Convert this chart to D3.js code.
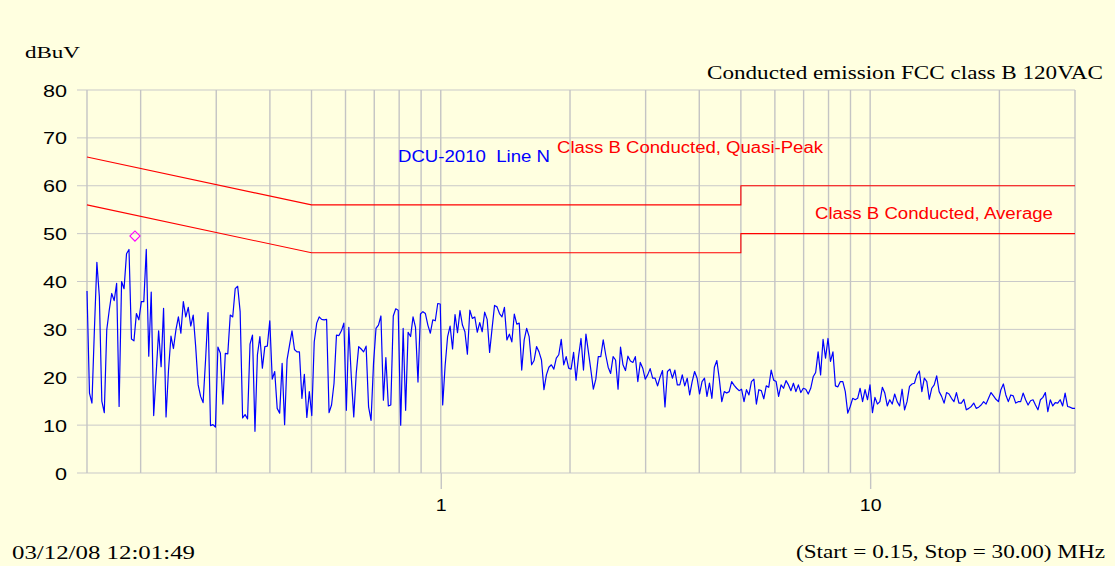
<!DOCTYPE html>
<html>
<head>
<meta charset="utf-8">
<script src="https://cdn.jsdelivr.net/npm/d3@7"></script>
<style>
  html, body { margin: 0; padding: 0; background: #ffffe0; }
  svg { display: block; }
  svg text { white-space: pre; }
</style>
</head>
<body>
<svg id="chart" width="1115" height="566"></svg>
<script>
// sweep definition (MHz)
const sweepStart = 0.15;
const sweepStop = 30;

const levels = [
  38, 16.7, 14.6, 30, 44, 36.8, 15, 12.6, 29.9, 34, 37.5, 36, 39.6, 13.9, 40, 38.5,
  45.8, 46.7, 28, 27.6, 33.3, 32, 35.8, 35.8, 46.7, 24.4, 37.8, 12, 20.8, 29.7, 22.2,
  34.4, 11.7, 21.5, 28.6, 26, 29.9, 32.6, 29.2, 35.8, 32.6, 34.6, 30.7, 33, 26.4, 18.4,
  16, 14.7, 23.6, 33.5, 9.9, 10.1, 9.6, 26.3, 25, 14.4, 25, 24.9, 33, 32.6, 38.5,
  39, 33.7, 11.5, 12.2, 11.3, 26.9, 28.8, 8.7, 24.7, 28.5, 21.9, 26.4, 26.5, 31.8, 19.6,
  21.2, 13.5, 12.5,
  22.9, 10.1, 23.7, 26.7, 29.7, 25.8, 25.3, 25.3, 15.6, 20.6,
  11.6, 17, 12, 27.4, 31.3, 32.6, 32.1, 32, 32.1, 12.6,
  14.2, 18.7, 28.8, 28.7, 29.7, 31.3, 13.1, 30.4, 20.1, 11.7,
  20.8, 26.4, 25.9, 25.3, 26.5, 13.8, 11, 22.9, 30.2, 30.9,
  32.8, 15.2, 24.1, 14, 14.2, 32.8, 34.3, 34, 10, 30.2,
  13.1, 29.4, 28.5, 32.6, 30.4, 19, 33.2, 33.7, 33.3, 30.9,
  29.2, 32, 31.8, 35.4, 35.3, 14.2, 22.5, 28.5, 30.7, 25.9,
  33.1, 29.3, 33.9, 30.9, 29.5, 24.8, 34, 32.3, 32.6, 29.4,
  31.4, 29.5, 33.6, 32.1, 25.2, 30.2, 35, 34.7, 33.3, 32.6,
  34.6, 27.8, 29, 27.4, 33.2, 31.1, 31.3,
  21.5, 27.8, 30.2, 28.5, 22.6, 23.5, 26.4, 25.3, 23.6, 17.4,
  20.5, 22.1, 22.6, 21.7, 24, 24.7, 27.9, 22.6, 24.3, 21.9,
  21.7, 25.2, 19.4, 24.3, 28.1, 21.5, 29, 25.3, 21.5, 17.5,
  19.6, 24.3, 24.3, 27.8, 24.7, 22.1, 20.8, 24.3, 23.6, 17.5,
  26.3, 22.6, 21.4, 24.4, 23.4, 23.1, 24.3, 19.1, 23.1, 21.9,
  19.6, 20.5, 21.8, 19.8, 19.8, 18.2, 20, 21.4, 13.8, 21.2,
  21.7, 19.8, 21.5, 18.4, 18.4, 20.5, 18.2, 19.8, 16.3, 19.1,
  21.2, 19.8, 16.5, 19.1, 19.8, 16, 18.8, 15.6, 22.1,
  23.5, 19.6, 14.9, 17, 16.7, 17, 19.1, 18.3, 17.7, 17.2,
  17.5, 14.9, 17.4, 16.3, 19.1, 19.6, 14.4, 17.4, 17.2, 15.5,
  18.2, 17.9, 21.5, 19.4, 19.1, 16, 18.4, 17.7, 19.3, 18.4,
  17.2, 18.75, 17, 18.4, 16.8, 17.7, 17.5, 16.5, 17.7, 20.1,
  21, 25.3, 20.5, 27.9, 24, 28.1, 23.3, 25.3, 18.2, 18,
  19.1, 19.1, 17, 12.5, 13.9, 15.6, 15.3, 15.6, 17.7, 14.9,
  17.4, 15.3, 18.4, 12.6, 15.8, 14.4, 14.9, 17.9, 16.7, 14,
  15.3, 14.4, 16.5, 14.9, 14,
  17.5, 13.2, 14.9, 18.1, 18.6, 18.75, 20.5, 21.3, 17, 19.8,
  19.1, 15.4, 17.7, 18.4, 20.3, 17, 16, 14.6, 16.8, 16.5,
  15.6, 14.9, 16.8, 14.6, 14.6, 15.4, 13.2, 13.5, 13.9, 14.6,
  13.5, 13.75, 14.2, 14.9, 14.4, 15.6, 16.8, 16.1, 15.4, 14.9,
  17.4, 18.6, 16.3, 14.9, 16.3, 16.1, 14.6, 14.9, 14.9, 16.7,
  15.3, 14.2, 15.1, 15.3, 14.2, 13.2, 15.3, 15.8, 16.8, 12.8,
  15.3, 14, 14.7, 14.6, 15.3, 14, 16.7, 13.9, 13.75, 13.5, 13.5
];

// FCC class B limits
const qpFreq = [0.15, 0.5, 5, 5, 30];
const qpLevel = [66, 56, 56, 60, 60];
const avgFreq = [0.15, 0.5, 5, 5, 30];
const avgLevel = [56, 46, 46, 50, 50];

// peak marker
const markerFreq = [0.194];
const markerLevel = [49.5];

const yTicks = [0, 10, 20, 30, 40, 50, 60, 70, 80];
const xLabelTicks = [1, 10];
const xGridTicks = [0.15, 0.2, 0.3, 0.4, 0.5, 0.6, 0.7, 0.8, 0.9, 1,
  2, 3, 4, 5, 6, 7, 8, 9, 10, 20, 30];

const margin = { top: 90, right: 40, bottom: 93, left: 87 };
const svgW = 1115, svgH = 566;
const width = svgW - margin.left - margin.right;
const height = svgH - margin.top - margin.bottom;

const svg = d3.select('#chart');
const g = svg.append('g')
  .attr('transform', `translate(${margin.left}, ${margin.top})`);

const x = d3.scaleLog().domain([sweepStart, sweepStop]).range([0, width]);
const y = d3.scaleLinear().domain([0, 80]).range([height, 0]);

const n = levels.length;
const trace = levels.map((v, i) => ({
  f: sweepStart * Math.pow(sweepStop / sweepStart, i / (n - 1)),
  v: v
}));

// horizontal grid, sticking out 10px on the left
g.append('g')
  .selectAll('line')
  .data(yTicks)
  .enter()
  .append('line')
  .attr('x1', -10)
  .attr('x2', width)
  .attr('y1', (d) => y(d))
  .attr('y2', (d) => y(d))
  .attr('stroke', '#c9c9c9')
  .attr('stroke-width', 1);

// vertical grid
g.append('g')
  .selectAll('line')
  .data(xGridTicks)
  .enter()
  .append('line')
  .attr('x1', (d) => x(d))
  .attr('x2', (d) => x(d))
  .attr('y1', 0)
  .attr('y2', height)
  .attr('stroke', '#c4c4c4')
  .attr('stroke-width', 1.4);

// y labels
const yAxis = svg.append('g')
  .attr('transform', `translate(67, ${margin.top})`)
  .call(d3.axisLeft(y).tickValues(yTicks).tickSize(0).tickPadding(0));
yAxis.select('.domain').remove();
yAxis.selectAll('text')
  .attr('dy', '0.36em')
  .attr('transform', 'scale(1.27,1)')
  .style('font-family', '"Liberation Sans", Arial, sans-serif')
  .style('font-size', '17px')
  .attr('fill', '#000');

// x labels (1, 10) with longer tick stubs
const xAxis = g.append('g')
  .attr('transform', `translate(0, ${height})`)
  .call(d3.axisBottom(x).tickValues(xLabelTicks).tickFormat(d3.format('d'))
    .tickSize(16).tickPadding(10));
xAxis.select('.domain').remove();
xAxis.selectAll('line').attr('stroke', '#c4c4c4').attr('stroke-width', 1.4);
xAxis.selectAll('text')
  .attr('transform', 'scale(1.15,1)')
  .style('font-family', '"Liberation Sans", Arial, sans-serif')
  .style('font-size', '17px')
  .attr('fill', '#000');

// limit lines
const limitLine = d3.line()
  .x((d) => x(d[0]))
  .y((d) => y(d[1]));

g.append('path')
  .datum(qpFreq.map((f, i) => [f, qpLevel[i]]))
  .attr('d', limitLine)
  .attr('fill', 'none')
  .attr('stroke', '#ff0000')
  .attr('stroke-width', 1.1);

g.append('path')
  .datum(avgFreq.map((f, i) => [f, avgLevel[i]]))
  .attr('d', limitLine)
  .attr('fill', 'none')
  .attr('stroke', '#ff0000')
  .attr('stroke-width', 1.1);

// measured trace
const line = d3.line()
  .x((d) => x(d.f))
  .y((d) => y(d.v));

g.append('path')
  .datum(trace)
  .attr('d', line)
  .attr('fill', 'none')
  .attr('stroke', '#0000ff')
  .attr('stroke-width', 1.2)
  .attr('stroke-linejoin', 'round');

// marker
g.selectAll('.marker')
  .data(markerFreq.map((f, i) => [f, markerLevel[i]]))
  .enter()
  .append('path')
  .attr('class', 'marker')
  .attr('d', d3.symbol().type(d3.symbolSquare).size(52))
  .attr('transform', (d) => `translate(${x(d[0])}, ${y(d[1])}) rotate(45)`)
  .attr('fill', 'none')
  .attr('stroke', '#ff00ff')
  .attr('stroke-width', 1.1);

// texts, stretched horizontally like the original
const serif = '"Liberation Serif", "Times New Roman", serif';
const sans = '"Liberation Sans", Arial, sans-serif';

function addText(txt, tx, ty, anchor, family, size, color, len) {
  const t = svg.append('text')
    .attr('x', tx)
    .attr('y', ty)
    .attr('text-anchor', anchor)
    .style('font-family', family)
    .style('font-size', size + 'px')
    .attr('fill', color)
    .text(txt);
  if (len) {
    t.attr('textLength', len).attr('lengthAdjust', 'spacingAndGlyphs');
  }
  return t;
}

addText('dBuV', 25, 58, 'start', serif, 17, '#000', 55);
addText('Conducted emission FCC class B 120VAC', 707, 79, 'start', serif, 18, '#000', 396);
addText('03/12/08 12:01:49', 12, 559, 'start', serif, 18, '#000', 183);
addText('(Start = 0.15, Stop = 30.00) MHz', 796, 558, 'start', serif, 18, '#000', 309);

addText('DCU-2010  Line N', 398, 162, 'start', sans, 16, '#0000ff', 152);
addText('Class B Conducted, Quasi-Peak', 557, 153, 'start', sans, 16, '#ff0000', 266);
addText('Class B Conducted, Average', 815, 219, 'start', sans, 16, '#ff0000', 238);
</script>
</body>
</html>
